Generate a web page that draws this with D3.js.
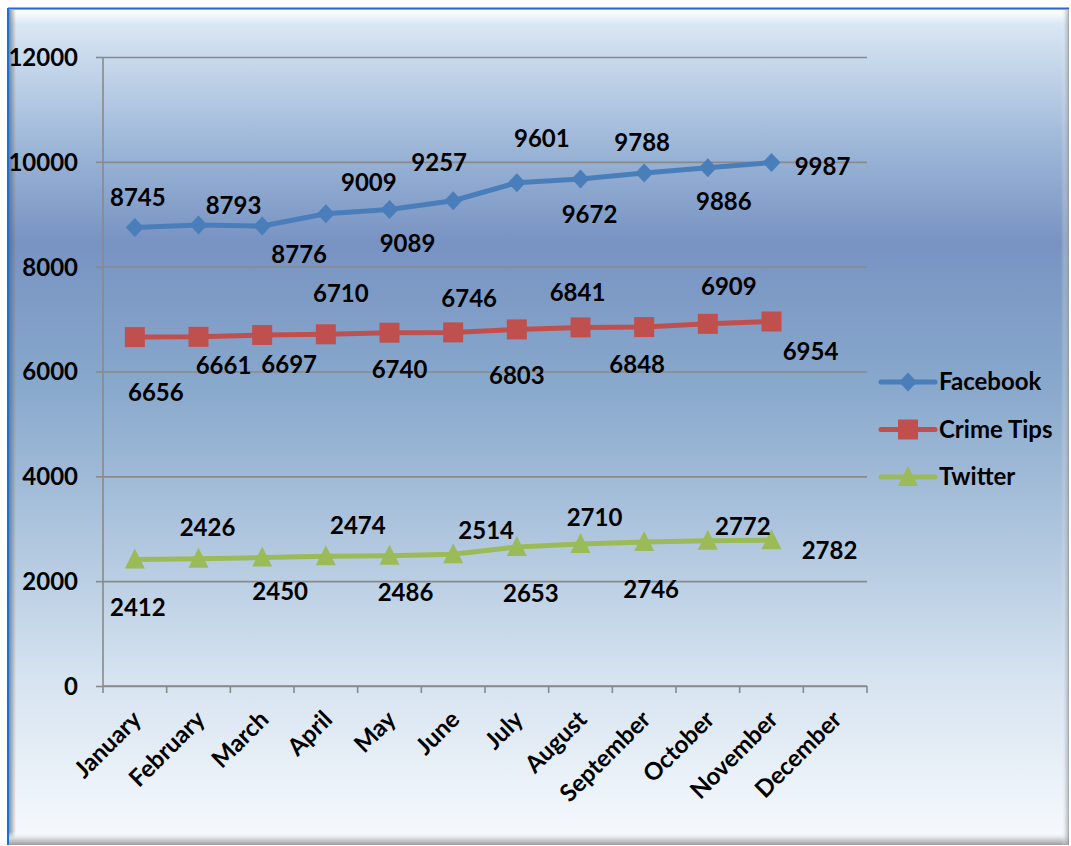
<!DOCTYPE html>
<html>
<head>
<meta charset="utf-8">
<script src="https://cdn.jsdelivr.net/npm/d3@7"></script>
<style>
  body { margin: 0; background: #fff; }
  svg text { font-family: Lato, "Noto Sans", sans-serif; font-weight: 700; fill: #000; }
</style>
</head>
<body>
<svg id="main"></svg>
<script>
var months = ["January", "February", "March", "April", "May", "June",
              "July", "August", "September", "October", "November", "December"];
var facebook  = [8745, 8793, 8776, 9009, 9089, 9257, 9601, 9672, 9788, 9886, 9987];
var crimeTips = [6656, 6661, 6697, 6710, 6740, 6746, 6803, 6841, 6848, 6909, 6954];
var twitter   = [2412, 2426, 2450, 2474, 2486, 2514, 2653, 2710, 2746, 2772, 2782];
var yTicks = [0, 2000, 4000, 6000, 8000, 10000, 12000];
var seriesNames = ["Facebook", "Crime Tips", "Twitter"];

// where the data labels were dragged to in the original (px from each point)
var fbNudge = [[3,-30],[35,-20],[37,29],[43,-31],[18,34],[-14,-38],[25,-44],[9,36],[-2,-30],[16,34],[51,4]];
var ctNudge = [[21,55],[25,29],[27,30],[15,-41],[10,37],[16,-34],[0,46],[-3,-35],[-7,38],[21,-37],[39,30]];
var twNudge = [[3,48],[9,-31],[18,34],[32,-31],[16,37],[33,-24],[14,47],[14,-26],[7,48],[35,-14],[58,10]];

var W = 1071, H = 846;
var FS = "24px";
var svg = d3.select("#main").attr("width", W).attr("height", H);
var defs = svg.append("defs");

// background gradient
var bg = defs.append("linearGradient").attr("id", "bg")
    .attr("x1", 0).attr("y1", 0).attr("x2", 0).attr("y2", 1);
[[0, "#e2edf8"], [0.06, "#c8d9ec"], [0.17, "#9bb5d7"], [0.28, "#7893c2"],
 [0.45, "#88a8cc"], [0.65, "#b3c9e0"], [0.8, "#d6e3f0"], [1, "#f7fafe"]]
  .forEach(function(s) { bg.append("stop").attr("offset", s[0]).attr("stop-color", s[1]); });

function edgeGrad(id, x2, y2, c1, o1) {
  var g = defs.append("linearGradient").attr("id", id)
      .attr("x1", 0).attr("y1", 0).attr("x2", x2).attr("y2", y2);
  g.append("stop").attr("offset", 0).attr("stop-color", c1).attr("stop-opacity", o1);
  g.append("stop").attr("offset", 1).attr("stop-color", c1).attr("stop-opacity", 0);
}
edgeGrad("topHi", 0, 1, "#ffffff", 0.95);
edgeGrad("leftSh", 1, 0, "#55657a", 0.7);
var bot = defs.append("linearGradient").attr("id", "botSh").attr("x1", 0).attr("y1", 0).attr("x2", 0).attr("y2", 1);
bot.append("stop").attr("offset", 0).attr("stop-color", "#ffffff").attr("stop-opacity", 0);
bot.append("stop").attr("offset", 0.5).attr("stop-color", "#d8dadc");
bot.append("stop").attr("offset", 1).attr("stop-color", "#9a9c9e");
var rgt = defs.append("linearGradient").attr("id", "rgtSh").attr("x1", 0).attr("y1", 0).attr("x2", 1).attr("y2", 0);
rgt.append("stop").attr("offset", 0).attr("stop-color", "#ffffff").attr("stop-opacity", 0);
rgt.append("stop").attr("offset", 1).attr("stop-color", "#8d96a2").attr("stop-opacity", 0.8);

// frame
svg.append("rect").attr("x", 8).attr("y", 8).attr("width", 1061).attr("height", 837).attr("fill", "url(#bg)");
svg.append("rect").attr("x", 10).attr("y", 10).attr("width", 1059).attr("height", 14).attr("fill", "url(#topHi)");
svg.append("rect").attr("x", 9).attr("y", 10).attr("width", 7).attr("height", 835).attr("fill", "url(#leftSh)");
svg.append("rect").attr("x", 9).attr("y", 832).attr("width", 1060).attr("height", 13).attr("fill", "url(#botSh)");
svg.append("rect").attr("x", 1061).attr("y", 10).attr("width", 8).attr("height", 835).attr("fill", "url(#rgtSh)");
svg.append("line").attr("x1", 8).attr("x2", 1069).attr("y1", 8.5).attr("y2", 8.5)
    .attr("stroke", "#2f63d6").attr("stroke-width", 2);
svg.append("line").attr("x1", 8).attr("x2", 8).attr("y1", 8).attr("y2", 845)
    .attr("stroke", "#1f6fd8").attr("stroke-width", 2);

// scales
var x = d3.scaleBand().domain(months).range([103, 867]).padding(0);
var y = d3.scaleLinear().domain([0, 12000]).range([686, 57]);
var cx = function(i) { return x(months[i]) + x.bandwidth() / 2; };

// gridlines
svg.append("g")
  .attr("transform", "translate(103,0)")
  .call(d3.axisLeft(y).tickValues(yTicks).tickSize(-764).tickFormat(""))
  .call(function(g) { g.select(".domain").remove(); })
  .selectAll(".tick line").attr("stroke", "#8a8a8a").attr("stroke-width", 1.6);

// y axis
var yAxis = svg.append("g")
  .attr("transform", "translate(103,0)")
  .call(d3.axisLeft(y).tickValues(yTicks).tickSize(7).tickPadding(18).tickFormat(d3.format("d")));
yAxis.select(".domain").attr("stroke", "#8a8a8a").attr("stroke-width", 1.6).attr("d", "M0,57V686");
yAxis.selectAll(".tick line").attr("stroke", "#8a8a8a").attr("stroke-width", 1.6);
yAxis.selectAll(".tick text").style("font-size", FS).attr("dy", "0.35em");

// x axis
var xAxis = svg.append("g")
  .attr("transform", "translate(0,686)")
  .call(d3.axisBottom(x).tickSize(0).tickFormat(""));
xAxis.select(".domain").attr("stroke", "#8a8a8a").attr("stroke-width", 1.6).attr("d", "M103,0H867");
xAxis.selectAll(".edge").data(d3.range(13)).enter().append("line")
  .attr("x1", function(i) { return 103 + i * x.bandwidth(); })
  .attr("x2", function(i) { return 103 + i * x.bandwidth(); })
  .attr("y1", 0).attr("y2", 7)
  .attr("stroke", "#8a8a8a").attr("stroke-width", 1.6);
svg.append("g").selectAll("text").data(months).enter().append("text")
  .attr("transform", function(d) {
    return "translate(" + (x(d) + x.bandwidth() / 2 + 2) + ",715) rotate(-45)";
  })
  .attr("text-anchor", "end")
  .attr("dy", "0.35em")
  .style("font-size", FS)
  .text(function(d) { return d; });

// series
var series = [
  { name: seriesNames[0], values: facebook,  color: "#4a7ebb", marker: "diamond",  nudge: fbNudge },
  { name: seriesNames[1], values: crimeTips, color: "#c0504d", marker: "square",   nudge: ctNudge },
  { name: seriesNames[2], values: twitter,   color: "#9bbb59", marker: "triangle", nudge: twNudge }
];

function markerPath(type) {
  if (type === "diamond") return "M0,-9.5L9,0L0,9.5L-9,0Z";
  if (type === "square") return "M-10,-10H10V10H-10Z";
  return "M0,-11L10,9H-10Z";
}

var line = d3.line()
  .x(function(d, i) { return cx(i); })
  .y(function(d) { return y(d); });

series.forEach(function(s) {
  svg.append("path").datum(s.values)
    .attr("d", line)
    .attr("fill", "none")
    .attr("stroke", s.color)
    .attr("stroke-width", 5)
    .attr("stroke-linejoin", "round")
    .attr("stroke-linecap", "round");
  svg.append("g").selectAll("path").data(s.values).enter().append("path")
    .attr("transform", function(d, i) { return "translate(" + cx(i) + "," + y(d) + ")"; })
    .attr("d", markerPath(s.marker))
    .attr("fill", s.color);
});

series.forEach(function(s) {
  svg.append("g").selectAll("text").data(s.values).enter().append("text")
    .attr("x", function(d, i) { return cx(i) + s.nudge[i][0]; })
    .attr("y", function(d, i) { return y(d) + s.nudge[i][1]; })
    .attr("text-anchor", "middle")
    .attr("dy", "0.35em")
    .style("font-size", FS)
    .text(function(d) { return d; });
});

// legend
var legend = svg.append("g").selectAll("g").data(series).enter().append("g")
  .attr("transform", function(d, i) { return "translate(0," + (382 + i * 47.5) + ")"; });
legend.append("line")
  .attr("x1", 881).attr("x2", 935).attr("y1", 0).attr("y2", 0)
  .attr("stroke", function(d) { return d.color; })
  .attr("stroke-width", 5).attr("stroke-linecap", "round");
legend.append("path")
  .attr("transform", "translate(908,0)")
  .attr("d", function(d) { return markerPath(d.marker); })
  .attr("fill", function(d) { return d.color; });
legend.append("text")
  .attr("x", 939).attr("y", 0).attr("dy", "0.35em")
  .style("font-size", FS)
  .text(function(d) { return d.name; });
</script>
</body>
</html>
